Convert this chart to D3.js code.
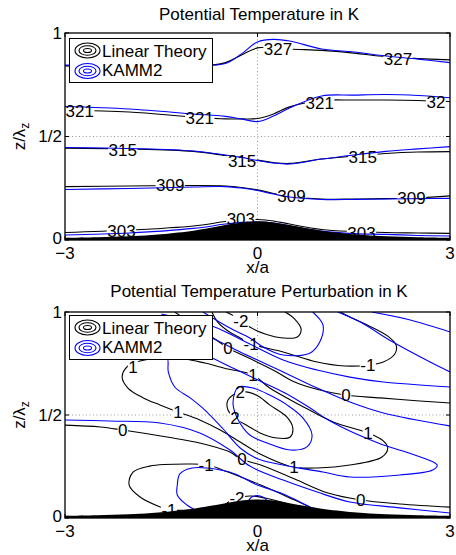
<!DOCTYPE html>
<html>
<head>
<meta charset="utf-8">
<script src="https://cdn.jsdelivr.net/npm/d3@7"></script>
<style>
  body { margin: 0; background: #fff; }
  svg text { font-family: "Liberation Sans", Arial, Helvetica, sans-serif; font-size: 17px; fill: #000; }
</style>
</head>
<body>
<div id="chart"></div>
<script>
// axes ticks
var xTicks = [-3, 0, 3];
var xTickLabels = ["\u22123", "0", "3"];
var zTicks = [0, 0.5, 1];
var zTickLabels = ["0", "1/2", "1"];
var legendNames = ["Linear Theory", "KAMM2"];

// hill (x/a, z/lambda_z)
var hillX = [-3, -2.5, -2, -1.5, -1, -0.75, -0.5, -0.25, 0, 0.25, 0.5, 0.75, 1, 1.5, 2, 2.5, 3];
var hillZ = [0.01, 0.013, 0.018, 0.028, 0.045, 0.058, 0.072, 0.085, 0.09, 0.085, 0.072, 0.058, 0.045, 0.028, 0.018, 0.013, 0.01];

// potential temperature isolines 303..327 K, z read at thetaX
var thetaX = [-3, -2, -1, -0.5, -0.25, 0, 0.25, 0.5, 1, 1.5, 2, 2.5, 3];
var thetaLinear = [
	[0.036, 0.048, 0.068, 0.089, 0.097, 0.099, 0.092, 0.077, 0.051, 0.041, 0.036, 0.034, 0.032],
	[0.258, 0.261, 0.263, 0.261, 0.254, 0.242, 0.225, 0.210, 0.198, 0.198, 0.200, 0.203, 0.213],
	[0.444, 0.440, 0.428, 0.408, 0.399, 0.386, 0.374, 0.370, 0.391, 0.406, 0.418, 0.425, 0.427],
	[0.628, 0.618, 0.594, 0.585, 0.585, 0.587, 0.609, 0.643, 0.674, 0.676, 0.676, 0.674, 0.669],
	[0.841, 0.836, 0.838, 0.857, 0.894, 0.928, 0.930, 0.923, 0.916, 0.903, 0.886, 0.877, 0.870]
];
var thetaKamm = [
	[0.024, 0.034, 0.056, 0.077, 0.085, 0.087, 0.082, 0.068, 0.043, 0.031, 0.027, 0.022, 0.019],
	[0.244, 0.249, 0.256, 0.258, 0.251, 0.239, 0.222, 0.208, 0.196, 0.196, 0.198, 0.200, 0.201],
	[0.447, 0.442, 0.430, 0.411, 0.399, 0.384, 0.372, 0.367, 0.391, 0.411, 0.428, 0.440, 0.451],
	[0.645, 0.633, 0.609, 0.597, 0.585, 0.572, 0.599, 0.638, 0.696, 0.700, 0.703, 0.698, 0.687],
	[0.845, 0.841, 0.843, 0.853, 0.899, 0.957, 0.969, 0.961, 0.923, 0.908, 0.889, 0.874, 0.857]
];
var thetaLabels = [
	[0.32, 0.921, "327"], [2.19, 0.873, "327"],
	[-2.77, 0.623, "321"], [-0.90, 0.588, "321"], [0.97, 0.662, "321"], [2.78, 0.667, "32"],
	[-2.10, 0.437, "315"], [-0.24, 0.382, "315"], [1.64, 0.402, "315"],
	[-1.36, 0.264, "309"], [0.53, 0.211, "309"], [2.40, 0.204, "309"],
	[-2.12, 0.043, "303"], [-0.26, 0.101, "303"], [1.62, 0.036, "303"]
];

// perturbation contours, linear theory
var pertLinM2 = [[-0.49, 1.0], [-0.37, 0.981], [-0.12, 0.927], [0.12, 0.893], [0.40, 0.874], [0.62, 0.879], [0.68, 0.917], [0.58, 0.966], [0.43, 1.0]];
var pertLinM1 = [[-0.71, 1.0], [-0.62, 0.951], [-0.46, 0.908], [-0.27, 0.874], [-0.10, 0.845], [0.40, 0.806], [0.93, 0.757], [1.36, 0.738], [1.75, 0.743], [1.96, 0.757], [2.14, 0.796], [2.16, 0.840], [2.03, 0.883], [1.71, 0.937], [1.44, 0.976], [1.29, 1.0]];
var pertLin0 = [[-1.29, 1.0], [-0.71, 0.879], [-0.46, 0.825], [-0.27, 0.796], [-0.04, 0.762], [0.27, 0.714], [0.58, 0.660], [0.97, 0.621], [1.36, 0.597], [1.91, 0.583], [2.53, 0.568], [3.0, 0.558]];
var pertLinP1 = [[-0.07, 0.694], [0.19, 0.631], [0.66, 0.549], [1.18, 0.466], [1.72, 0.413], [1.96, 0.374], [2.03, 0.340], [1.94, 0.296], [1.44, 0.257], [0.93, 0.243], [0.55, 0.248], [0.04, 0.311], [-0.27, 0.369], [-0.58, 0.427], [-0.90, 0.476], [-1.24, 0.515], [-1.52, 0.549], [-1.78, 0.583], [-2.02, 0.631], [-2.11, 0.684], [-2.02, 0.738], [-1.83, 0.762], [-1.52, 0.777], [-1.13, 0.772], [-0.82, 0.752], [-0.46, 0.723]];
var pertLinP2 = [[-0.46, 0.573], [-0.27, 0.612], [-0.02, 0.597], [0.19, 0.549], [0.46, 0.490], [0.55, 0.437], [0.51, 0.393], [0.30, 0.388], [0.04, 0.413], [-0.15, 0.447], [-0.35, 0.485], [-0.46, 0.524]];
var pertLin0Low = [[-3, 0.451], [-2.45, 0.442], [-2.10, 0.427], [-1.41, 0.393], [-0.90, 0.364], [-0.43, 0.320], [-0.26, 0.286], [0.05, 0.257], [0.58, 0.189], [1.10, 0.121], [1.61, 0.087], [2.22, 0.068], [3.0, 0.053]];
var pertLinM1Low = [[-1.05, 0.039], [-1.36, 0.039], [-1.55, 0.058], [-1.83, 0.102], [-2.00, 0.160], [-1.94, 0.223], [-1.68, 0.252], [-1.10, 0.262], [-0.77, 0.257], [-0.46, 0.223], [0.05, 0.160], [0.58, 0.087], [0.85, 0.049]];
var pertLinM2Low = [[-0.55, 0.049], [-0.43, 0.083], [-0.12, 0.107], [0.12, 0.097], [0.43, 0.073], [0.54, 0.063]];

// perturbation contours, KAMM2
var pertKamM2 = [[-0.85, 1.0], [-0.43, 0.922], [-0.12, 0.874], [0.09, 0.830], [0.40, 0.791], [0.82, 0.801], [0.97, 0.854], [1.02, 0.937], [0.86, 1.0]];
var pertKamM1 = [[1.25, 1.0], [1.60, 0.951], [2.11, 0.854], [2.69, 0.757], [3.0, 0.709]];
var pertKamCorner = [[1.78, 1.0], [2.38, 0.961], [3.0, 0.903]];
var pertKamA = [[-1.5, 0.99], [-0.71, 0.932], [-0.43, 0.893], [-0.12, 0.845], [0.40, 0.767], [0.93, 0.718], [1.44, 0.684], [1.96, 0.660], [3.0, 0.636]];
var pertKamB = [[-1.4, 0.96], [-0.71, 0.874], [-0.27, 0.806], [0.40, 0.709], [0.93, 0.631], [1.44, 0.563], [1.96, 0.510], [3.0, 0.447]];
var pertKamP1 = [[-1.68, 0.840], [-1.41, 0.782], [-1.39, 0.709], [-1.29, 0.636], [-1.05, 0.583], [-0.82, 0.524], [-0.55, 0.437], [-0.27, 0.340], [0.01, 0.286], [0.55, 0.248], [1.02, 0.223], [1.44, 0.199], [2.22, 0.209], [2.73, 0.233], [2.80, 0.257], [2.45, 0.306], [1.88, 0.364], [1.13, 0.471], [0.82, 0.534], [0.43, 0.607], [0.04, 0.665], [-0.35, 0.723], [-0.71, 0.777], [-1.21, 0.840]];
var pertKamP2 = [[-0.30, 0.636], [-0.07, 0.631], [0.19, 0.597], [0.46, 0.549], [0.71, 0.485], [0.85, 0.403], [0.77, 0.345], [0.51, 0.330], [0.15, 0.364], [-0.12, 0.403], [-0.30, 0.476], [-0.38, 0.549], [-0.35, 0.612]];
var pertKam0Low = [[-3, 0.476], [-2.30, 0.471], [-1.52, 0.461], [-0.90, 0.413], [-0.43, 0.330], [-0.12, 0.252], [0.40, 0.184], [0.93, 0.126], [1.44, 0.078], [2.22, 0.049], [3.0, 0.024]];
var pertKamM1Low = [[-0.97, 0.039], [-1.10, 0.063], [-1.25, 0.112], [-1.25, 0.160], [-1.21, 0.214], [-1.02, 0.243], [-0.66, 0.238], [-0.35, 0.214], [-0.04, 0.165], [0.40, 0.117], [0.66, 0.078], [0.82, 0.053]];
var pertKamM2Low = [[-0.15, 0.078], [-0.09, 0.102], [0.04, 0.107], [0.13, 0.092], [0.15, 0.078]];

var pertLabels = [
	[-0.26, 0.956, "-2"], [-0.46, 0.825, "0"], [-0.10, 0.845, "-1"], [-1.94, 0.733, "1"],
	[-0.07, 0.694, "1"], [-0.27, 0.612, "2"], [1.72, 0.743, "-1"], [1.38, 0.597, "0"],
	[-1.24, 0.515, "1"], [-0.35, 0.485, "2"], [-2.10, 0.427, "0"], [1.72, 0.413, "1"],
	[-0.24, 0.286, "0"], [-0.80, 0.257, "-1"], [0.57, 0.248, "1"], [-0.32, 0.097, "-2"],
	[1.61, 0.087, "0"], [-1.38, 0.039, "-1"]
];

var svg = d3.select("#chart")
  .append("svg")
    .attr("width", 456)
    .attr("height", 555);

var x = d3.scaleLinear().domain([-3, 3]).range([65, 450]);

function asLine(pts) { return {pts: pts, closed: false}; }
function asLoop(pts) { return {pts: pts, closed: true}; }
function onGrid(zs) { return asLine(thetaX.map(function(v, i) { return [v, zs[i]]; })); }

function drawPanel(p) {
	var y = d3.scaleLinear().domain([0, 1]).range([p.bottom, p.top]);
	var g = svg.append("g");

	g.append("clipPath").attr("id", p.id)
	  .append("rect")
	    .attr("x", x(-3))
	    .attr("y", y(1))
	    .attr("width", x(3) - x(-3))
	    .attr("height", y(0) - y(1));

	var line = d3.line()
	    .x(function(d) { return x(d[0]); })
	    .y(function(d) { return y(d[1]); })
	    .curve(d3.curveCatmullRom.alpha(0.5));
	var loop = d3.line()
	    .x(function(d) { return x(d[0]); })
	    .y(function(d) { return y(d[1]); })
	    .curve(d3.curveCatmullRomClosed.alpha(0.5));
	var shape = function(d) { return d.closed ? loop(d.pts) : line(d.pts); };

	//dotted grid
	g.append("line")
	    .attr("x1", x(0)).attr("x2", x(0))
	    .attr("y1", y(0)).attr("y2", y(1))
	    .style("stroke", "#999")
	    .style("stroke-dasharray", "1,2.5");
	g.append("line")
	    .attr("x1", x(-3)).attr("x2", x(3))
	    .attr("y1", y(0.5)).attr("y2", y(0.5))
	    .style("stroke", "#999")
	    .style("stroke-dasharray", "1,2.5");

	var plot = g.append("g").attr("clip-path", "url(#" + p.id + ")");
	plot.selectAll("path.lin")
	    .data(p.lin)
	  .enter().append("path")
	    .attr("class", "lin")
	    .attr("d", shape)
	    .style("fill", "none")
	    .style("stroke", "black")
	    .style("stroke-width", 1.1);
	var bg = plot.append("g");
	plot.selectAll("path.kamm")
	    .data(p.kamm)
	  .enter().append("path")
	    .attr("class", "kamm")
	    .attr("d", shape)
	    .style("fill", "none")
	    .style("stroke", "#0000ff")
	    .style("stroke-width", 1.1);

	//hill
	plot.append("path")
	    .datum(hillX.map(function(v, i) { return [v, hillZ[i]]; }))
	    .attr("d", d3.area()
	        .x(function(d) { return x(d[0]); })
	        .y0(y(0))
	        .y1(function(d) { return y(d[1]); })
	        .curve(d3.curveCatmullRom))
	    .style("fill", "black");

	//contour labels
	var labels = plot.append("g").selectAll("text")
	    .data(p.labels)
	  .enter().append("text")
	    .attr("x", function(d) { return x(d[0]); })
	    .attr("y", function(d) { return y(d[1]); })
	    .attr("dy", "0.36em")
	    .attr("text-anchor", "middle")
	    .text(function(d) { return d[2]; });
	labels.each(function() {
		var b = this.getBBox();
		bg.append("rect")
		    .attr("x", b.x - 0.5)
		    .attr("y", b.y + 3)
		    .attr("width", b.width + 1)
		    .attr("height", b.height - 6)
		    .style("fill", "white");
	});

	//box
	g.append("rect")
	    .attr("x", x(-3))
	    .attr("y", y(1))
	    .attr("width", x(3) - x(-3))
	    .attr("height", y(0) - y(1))
	    .style("fill", "none")
	    .style("stroke", "black")
	    .style("stroke-width", 1.3);

	//ticks
	xTicks.forEach(function(t, i) {
		g.append("line").attr("x1", x(t)).attr("x2", x(t)).attr("y1", y(0)).attr("y2", y(0) - 4).style("stroke", "black");
		g.append("line").attr("x1", x(t)).attr("x2", x(t)).attr("y1", y(1)).attr("y2", y(1) + 4).style("stroke", "black");
		g.append("text")
		    .attr("x", x(t))
		    .attr("y", y(0) + 19)
		    .attr("text-anchor", "middle")
		    .text(xTickLabels[i]);
	});
	zTicks.forEach(function(t, i) {
		g.append("line").attr("x1", x(-3)).attr("x2", x(-3) + 4).attr("y1", y(t)).attr("y2", y(t)).style("stroke", "black");
		g.append("line").attr("x1", x(3)).attr("x2", x(3) - 4).attr("y1", y(t)).attr("y2", y(t)).style("stroke", "black");
		g.append("text")
		    .attr("x", 62)
		    .attr("y", y(t) - (t == 0 ? 2 : 0))
		    .attr("dy", "0.34em")
		    .attr("text-anchor", "end")
		    .text(zTickLabels[i]);
	});

	//title and axis labels
	g.append("text")
	    .attr("x", 259)
	    .attr("y", p.titleY)
	    .attr("text-anchor", "middle")
	    .text(p.title);
	g.append("text")
	    .attr("x", 257.5)
	    .attr("y", y(0) + 33)
	    .attr("text-anchor", "middle")
	    .text("x/a");
	var yl = g.append("text")
	    .attr("transform", "translate(25," + (y(0) + y(1)) / 2 + ") rotate(-90)")
	    .attr("text-anchor", "middle");
	yl.append("tspan").text("z/\u03bb");
	yl.append("tspan").attr("dy", 4).style("font-size", "12px").text("z");

	//legend
	var lt = p.legendTop;
	g.append("rect")
	    .attr("x", 69.5)
	    .attr("y", lt + 0.5)
	    .attr("width", 143)
	    .attr("height", 44)
	    .style("fill", "white")
	    .style("stroke", "black");
	legendNames.forEach(function(name, i) {
		var cy = lt + 12.5 + i * 20.5;
		var col = i == 0 ? "black" : "#0000ff";
		[[12.5, 7.5], [8.5, 4.8], [4, 2]].forEach(function(r) {
			g.append("ellipse")
			    .attr("cx", 87.5)
			    .attr("cy", cy)
			    .attr("rx", r[0])
			    .attr("ry", r[1])
			    .style("fill", "none")
			    .style("stroke", col)
			    .style("stroke-width", 1.1);
		});
		g.append("text")
		    .attr("x", 102)
		    .attr("y", lt + 18.5 + i * 19.5)
		    .text(name);
	});
}

drawPanel({
	id: "clipTheta", top: 33, bottom: 240, legendTop: 38, titleY: 20,
	title: "Potential Temperature in K",
	lin: thetaLinear.map(onGrid),
	kamm: thetaKamm.map(onGrid),
	labels: thetaLabels
});

drawPanel({
	id: "clipPert", top: 312, bottom: 518, legendTop: 315, titleY: 297,
	title: "Potential Temperature Perturbation in K",
	lin: [asLine(pertLinM2), asLine(pertLinM1), asLine(pertLin0), asLoop(pertLinP1), asLoop(pertLinP2),
	      asLine(pertLin0Low), asLine(pertLinM1Low), asLine(pertLinM2Low)],
	kamm: [asLine(pertKamM2), asLine(pertKamM1), asLine(pertKamCorner), asLine(pertKamA), asLine(pertKamB),
	       asLine(pertKamP1), asLoop(pertKamP2), asLine(pertKam0Low), asLine(pertKamM1Low), asLine(pertKamM2Low)],
	labels: pertLabels
});
</script>
</body>
</html>
